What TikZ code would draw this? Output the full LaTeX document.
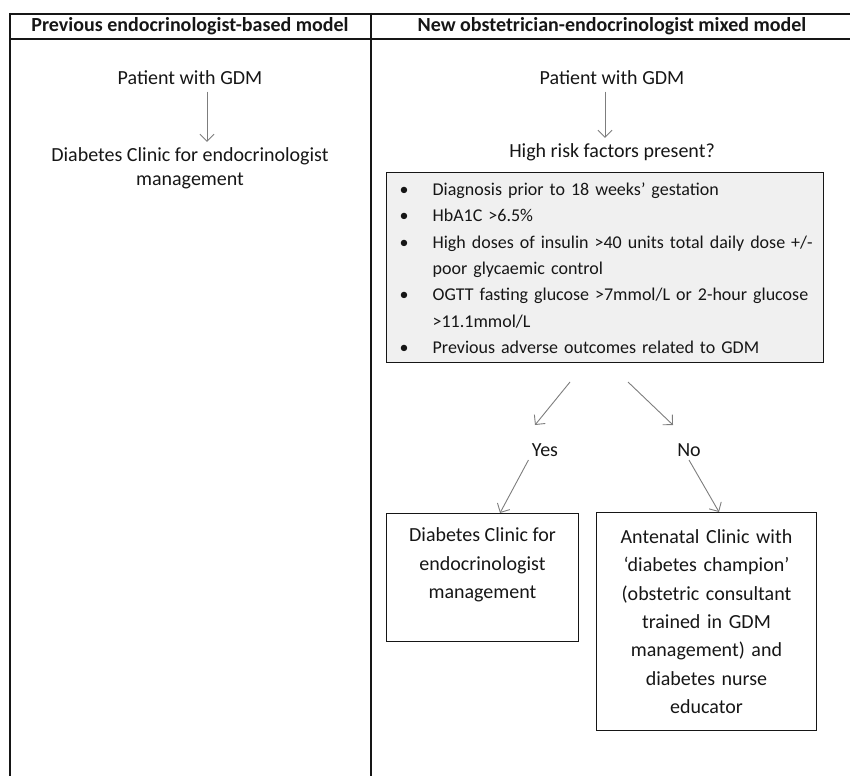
\documentclass[tikz,border=0pt]{standalone}
\usepackage{fontspec}
\setmainfont{Carlito}
\usepackage{xcolor}
\usetikzlibrary{arrows.meta}

\definecolor{inkgray}{RGB}{22,22,22}
\definecolor{arrowgray}{RGB}{125,125,125}
\definecolor{boxgray}{RGB}{240,240,240}

\newcommand{\riskitem}[1]{\noindent\hangindent=41pt\hangafter=1\makebox[41pt][l]{\hspace{8pt}\textbullet}#1\par}

\begin{document}
\begin{tikzpicture}[x=1pt, y=-1pt, >={Straight Barb[length=7pt,width=14pt]},
  every node/.style={text=inkgray, font=\fontsize{20pt}{24pt}\selectfont},
  head/.style={font=\bfseries\fontsize{20pt}{24pt}\selectfont},
  flow/.style={->, arrowgray, line width=0.9pt},
  risk/.style={draw=inkgray, fill=boxgray, line width=1.3pt, text width=427pt,
    inner xsep=5pt, inner ysep=9pt, align=left, font=\fontsize{18pt}{26.3pt}\selectfont},
  clinic/.style={draw=inkgray, line width=1.3pt, align=center, font=\fontsize{20pt}{28.4pt}\selectfont}]
  \useasboundingbox (0,0) rectangle (850,776);

  % Tabella
  \draw[inkgray, line width=1.4pt] (10,14) -- (850,14);
  \draw[inkgray, line width=1.4pt] (10,39) -- (850,39);
  \draw[inkgray, line width=1.4pt] (10,13) -- (10,776);
  \draw[inkgray, line width=1.4pt] (371,13) -- (371,776);

  % Intestazioni
  \node[head] (hdl) at (190,26.5) {Previous endocrinologist-based model};
  \node[head] (hdr) at (612,26.5) {New obstetrician-endocrinologist mixed model};

  % Modello precedente
  \node (lpat) at (190,78) {Patient with GDM};
  \node[align=center] (lclin) at (190,168) {Diabetes Clinic for endocrinologist\\management};
  \coordinate (lgap) at (207,0);
  \draw[flow, shorten <=3pt, shorten >=2pt] (lpat.south -| lgap) -- (lclin.north -| lgap);

  % Nuovo modello
  \node (rpat) at (612,78) {Patient with GDM};
  \node (rq) at (612,152) {High risk factors present?};
  \coordinate (rgap) at (605,0);
  \draw[flow, shorten <=3pt, shorten >=2pt] (rpat.south -| rgap) -- (rq.north -| rgap);

  \node[risk, anchor=north west] (risk) at (386,172) {%
    \riskitem{\rule{0pt}{14pt}Diagnosis prior to 18 weeks’ gestation}
    \riskitem{HbA1C >6.5\%}
    \riskitem{High doses of insulin >40 units total daily dose +/-\newline poor glycaemic control}
    \riskitem{OGTT fasting glucose >7mmol/L or 2-hour glucose\newline >11.1mmol/L}
    \riskitem{Previous adverse outcomes related to GDM}};

  \node (yes) at (545,450) {Yes};
  \node (no) at (689,450) {No};

  \node[clinic, anchor=north west, inner ysep=8pt] (dclin) at (386,513)
    {\parbox[t][112pt][t]{185pt}{\centering\rule{0pt}{20pt}Diabetes Clinic for\\endocrinologist\\management}};
  \node[clinic, anchor=north west, text width=213pt, minimum height=218pt] (aclin) at (596,512)
    {Antenatal Clinic with\\‘diabetes champion’\\(obstetric consultant\\trained in GDM\\management) and\\diabetes nurse\\educator};

  % Frecce
  \coordinate (yesA) at (570,382);
  \coordinate (yesB) at (535,425);
  \coordinate (noA) at (628,382);
  \coordinate (noB) at (673,425);
  \draw[flow] (yesA) -- (yesB);
  \draw[flow] (noA) -- (noB);
  \draw[flow] (yes.south west) -- (dclin.north -| 500,0);
  \draw[flow] (no.south) -- (aclin.north -| 719,0);
\end{tikzpicture}
\end{document}
